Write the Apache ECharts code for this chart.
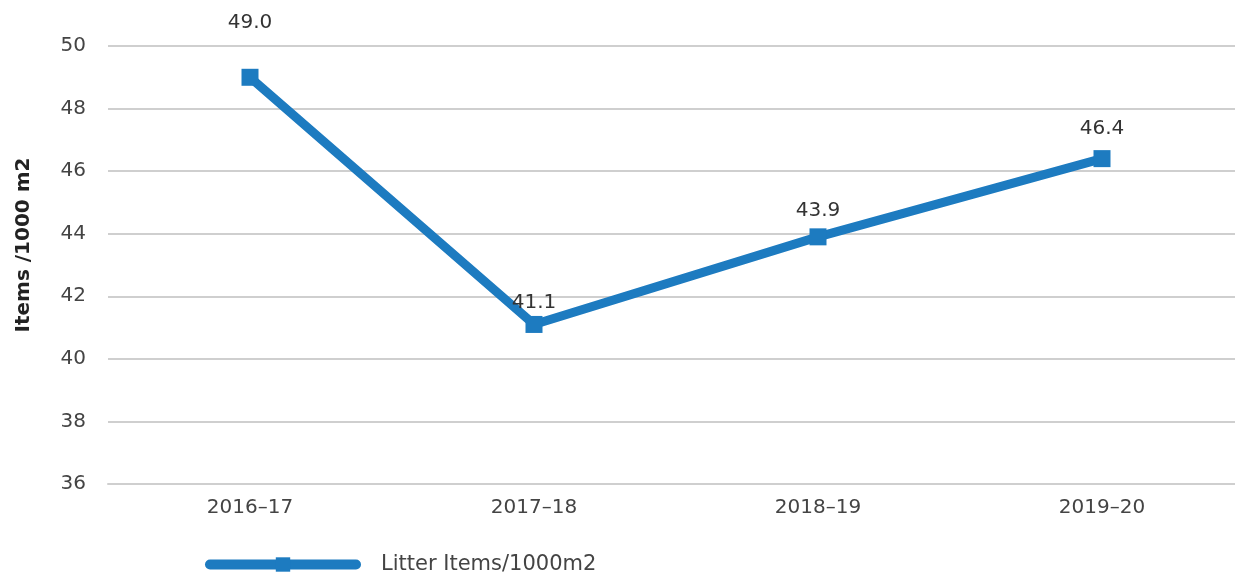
<!DOCTYPE html>
<html>
<head>
<meta charset="utf-8">
<script src="https://cdn.jsdelivr.net/npm/echarts@6/dist/echarts.min.js"></script>
<style>
  html, body { margin: 0; padding: 0; background: #fff; }
  #chart { width: 1235px; height: 576px; }
</style>
</head>
<body>
<div id="chart"></div>
<script>
const years = ['2016–17', '2017–18', '2018–19', '2019–20']
const litterValues = [49.0, 41.1, 43.9, 46.4]
const yTicks = [36, 38, 40, 42, 44, 46, 48, 50]

// label gap above each point, as in the source
const labelGaps = [36, 3, 8, 11]

const blue = '#1d7bc0'
const font = 'DejaVu Sans'

const chart = echarts.init(document.getElementById('chart'))

const option = {
  animation: false,
  textStyle: { fontFamily: font },
  grid: {
    left: 108,
    top: 46,
    width: 1136,
    height: 438,
    outerBoundsMode: 'none'
  },
  legend: {
    left: 200,
    top: 549,
    itemWidth: 146,
    itemHeight: 18,
    textStyle: { fontSize: 21, color: '#444', fontFamily: font, padding: [0, 0, 0, 20] },
    lineStyle: { width: 10, cap: 'round' },
    data: ['Litter Items/1000m2']
  },
  xAxis: {
    type: 'category',
    data: years,
    boundaryGap: true,
    axisLine: { show: true, lineStyle: { color: '#cfcfcf', width: 2 } },
    axisTick: { show: false },
    axisLabel: { color: '#444', fontSize: 20, margin: 14 }
  },
  yAxis: {
    type: 'value',
    min: yTicks[0],
    max: yTicks[yTicks.length - 1],
    interval: 2,
    name: 'Items /1000 m2',
    nameLocation: 'middle',
    nameRotate: 90,
    nameGap: 74,
    nameTextStyle: { fontSize: 20, fontWeight: 'bold', color: '#222', padding: [0, 0, 0, 40] },
    axisLine: { show: false },
    axisTick: { show: false },
    axisLabel: { color: '#444', fontSize: 20, margin: 22 },
    splitLine: { lineStyle: { color: '#cfcfcf', width: 2 } }
  },
  series: [
    {
      name: 'Litter Items/1000m2',
      type: 'line',
      data: litterValues.map((v, i) => ({
        value: v,
        label: { distance: labelGaps[i] }
      })),
      symbol: 'rect',
      symbolSize: 17,
      itemStyle: { color: blue },
      lineStyle: { color: blue, width: 9 },
      label: {
        show: true,
        position: 'top',
        fontSize: 20,
        color: '#333',
        formatter: (p) => p.value.toFixed(1)
      }
    }
  ]
}

chart.setOption(option)
</script>
</body>
</html>
